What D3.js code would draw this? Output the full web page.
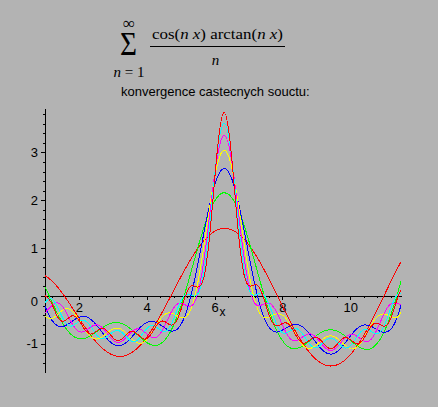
<!DOCTYPE html>
<html><head><meta charset="utf-8">
<script src="https://cdn.jsdelivr.net/npm/d3@7"></script>
<style>
html,body{margin:0;padding:0;background:#b3b3b3;}
svg{display:block}
</style></head><body>
<svg id="chart" width="438" height="407"></svg>
<script>
// sample positions along x
const xs = [0.9818,1.1781,1.3744,1.5708,1.7671,1.9635,2.1598,2.3562,2.5525,2.7489,2.9452,3.1416,3.3379,3.5343,3.7306,3.9270,4.1233,4.3197,4.5160,4.7124,4.9087,5.1051,5.3014,5.4978,5.6941,5.8905,6.0868,6.2832,6.4795,6.6759,6.8722,7.0686,7.2649,7.4613,7.6576,7.8540,8.0503,8.2467,8.4430,8.6394,8.8357,9.0321,9.2284,9.4248,9.6211,9.8175,10.0138,10.2102,10.4065,10.6029,10.7992,10.9956,11.1919,11.3883,11.5846];
// partial sums N = 1..7
const s1 = [0.431,0.332,0.184,0,-0.206,-0.421,-0.632,-0.827,-0.996,-1.129,-1.220,-1.263,-1.255,-1.197,-1.088,-0.934,-0.741,-0.514,-0.264,0,0.267,0.527,0.769,0.984,1.162,1.296,1.381,1.413,1.391,1.314,1.186,1.011,0.797,0.550,0.281,0,-0.282,-0.555,-0.807,-1.029,-1.212,-1.349,-1.435,-1.465,-1.439,-1.358,-1.223,-1.042,-0.820,-0.565,-0.289,0,0.289,0.568,0.825];
const s2 = [0.221,-0.082,-0.381,-0.631,-0.804,-0.888,-0.889,-0.827,-0.732,-0.637,-0.572,-0.556,-0.598,-0.691,-0.813,-0.934,-1.018,-1.029,-0.939,-0.733,-0.412,0.006,0.487,0.984,1.445,1.821,2.069,2.159,2.081,1.843,1.473,1.011,0.509,0.019,-0.414,-0.754,-0.979,-1.089,-1.096,-1.029,-0.923,-0.814,-0.734,-0.706,-0.737,-0.820,-0.932,-1.042,-1.111,-1.104,-0.993,-0.763,-0.416,0.028,0.533];
const s3 = [-0.186,-0.480,-0.628,-0.631,-0.548,-0.456,-0.426,-0.490,-0.638,-0.822,-0.976,-1.044,-1.006,-0.879,-0.717,-0.584,-0.531,-0.569,-0.662,-0.733,-0.690,-0.458,-0.006,0.628,1.347,2.015,2.489,2.665,2.502,2.037,1.374,0.652,0.011,-0.452,-0.697,-0.754,-0.696,-0.618,-0.596,-0.668,-0.823,-1.009,-1.160,-1.218,-1.163,-1.016,-0.832,-0.679,-0.608,-0.630,-0.708,-0.763,-0.701,-0.447,0.029];
const s4 = [-0.419,-0.480,-0.382,-0.278,-0.295,-0.456,-0.683,-0.856,-0.899,-0.822,-0.713,-0.672,-0.741,-0.879,-0.983,-0.961,-0.798,-0.569,-0.394,-0.353,-0.421,-0.458,-0.276,0.246,1.077,2.015,2.759,3.047,2.773,2.037,1.102,0.269,-0.261,-0.452,-0.425,-0.369,-0.424,-0.618,-0.868,-1.054,-1.096,-1.009,-0.887,-0.832,-0.890,-1.016,-1.106,-1.066,-0.881,-0.630,-0.434,-0.376,-0.428,-0.447,-0.245];
const s5 = [-0.366,-0.221,-0.145,-0.278,-0.537,-0.728,-0.741,-0.646,-0.606,-0.708,-0.880,-0.973,-0.909,-0.763,-0.685,-0.746,-0.857,-0.850,-0.647,-0.353,-0.167,-0.174,-0.216,0.029,0.776,1.897,2.930,3.355,2.944,1.919,0.800,0.050,-0.201,-0.166,-0.169,-0.369,-0.681,-0.903,-0.929,-0.835,-0.792,-0.891,-1.059,-1.142,-1.062,-0.898,-0.802,-0.846,-0.942,-0.917,-0.692,-0.376,-0.169,-0.160,-0.185];
const s6 = [-0.150,-0.053,-0.237,-0.522,-0.632,-0.552,-0.511,-0.646,-0.838,-0.886,-0.783,-0.720,-0.812,-0.943,-0.920,-0.746,-0.622,-0.670,-0.745,-0.609,-0.265,0.007,0.021,0.029,0.539,1.715,3.029,3.613,3.042,1.737,0.562,0.050,0.038,0.016,-0.267,-0.627,-0.780,-0.721,-0.690,-0.835,-1.031,-1.074,-0.960,-0.883,-0.963,-1.081,-1.041,-0.846,-0.702,-0.733,-0.791,-0.635,-0.269,0.023,0.055];
const s7 = [0.020,-0.132,-0.443,-0.522,-0.423,-0.471,-0.689,-0.799,-0.718,-0.685,-0.826,-0.938,-0.855,-0.741,-0.799,-0.901,-0.804,-0.586,-0.530,-0.609,-0.481,-0.078,0.205,0.185,0.416,1.511,3.072,3.834,3.085,1.532,0.439,0.207,0.222,-0.069,-0.485,-0.627,-0.562,-0.636,-0.874,-0.992,-0.908,-0.869,-1.003,-1.105,-1.007,-0.875,-0.917,-1.004,-0.887,-0.648,-0.573,-0.635,-0.487,-0.062,0.240];
const xTickValues = [2,4,6,8,10];
const yTickValues = [-1,1,2,3];
const yZeroLabel = "0";
const xAxisTitle = "x";
const subtitle = "konvergence castecnych souctu:";

const series = [s1,s2,s3,s4,s5,s6,s7];
const colors = ["#ff0000","#00ff00","#0000ff","#ffff00","#ff00ff","#00ffff","#ff0000"];

const svg = d3.select("#chart");
const x = d3.scaleLinear().domain([1, 11.5]).range([45, 401]);
const y = d3.scaleLinear().domain([-1.59, 3.93]).range([372, 108]);

// title
const serif = "'Liberation Serif','Times New Roman',serif";
svg.append("text").attr("x",129).attr("y",29).attr("text-anchor","middle")
  .attr("font-family",serif).attr("font-size",17).text("∞");
svg.append("text").attr("x",120).attr("y",55)
  .attr("font-family",serif).attr("font-size",34)
  .attr("textLength",17).attr("lengthAdjust","spacingAndGlyphs").text("Σ");
const nEq = svg.append("text").attr("x",129).attr("y",77).attr("text-anchor","middle")
  .attr("font-family",serif).attr("font-size",15);
nEq.append("tspan").attr("font-style","italic").text("n");
nEq.append("tspan").text(" = 1");
const num = svg.append("text").attr("x",152).attr("y",38.5)
  .attr("font-family",serif).attr("font-size",15)
  .attr("textLength",131).attr("lengthAdjust","spacingAndGlyphs");
[["cos(",0],["n",1],[" ",0],["x",1],[") arctan(",0],["n",1],[" ",0],["x",1],[")",0]]
  .forEach(([t,it]) => num.append("tspan").attr("font-style", it ? "italic" : "normal").text(t));
svg.append("line").attr("x1",150).attr("x2",285).attr("y1",46.5).attr("y2",46.5)
  .attr("stroke","#000").attr("stroke-width",1);
svg.append("text").attr("x",215.5).attr("y",65).attr("text-anchor","middle")
  .attr("font-family",serif).attr("font-size",15).attr("font-style","italic").text("n");
svg.append("text").attr("x",121).attr("y",96)
  .attr("font-family","'Liberation Sans',Arial,sans-serif").attr("font-size",13)
  .attr("fill","#000").text(subtitle);

// axes
const sans = "'Liberation Sans',Arial,sans-serif";
const minorX = d3.range(1.2, 11.45, 0.4).filter(v => Math.abs(v/2 - Math.round(v/2)) > 0.01);
const minorY = d3.range(-1.4, 3.9, 0.2).filter(v => Math.abs(v - Math.round(v)) > 0.01);

const gx = svg.append("g").attr("transform","translate(0,296)");
gx.call(d3.axisBottom(x).tickValues(minorX).tickSize(2).tickSizeOuter(0).tickFormat(""));
gx.append("g").call(d3.axisBottom(x).tickValues(xTickValues).tickSize(4).tickSizeOuter(0).tickPadding(3).tickFormat(d => String(d)));
const gy = svg.append("g").attr("transform","translate(45,0)");
gy.call(d3.axisLeft(y).tickValues(minorY).tickSize(2.5).tickSizeOuter(0).tickFormat(""));
gy.append("g").call(d3.axisLeft(y).tickValues(yTickValues.concat([0])).tickSize(4).tickSizeOuter(0).tickPadding(3).tickFormat(d => d === 0 ? "" : String(d)));
svg.selectAll(".domain").attr("stroke","#000").attr("shape-rendering","crispEdges");
svg.selectAll(".tick line").attr("stroke","#000").attr("shape-rendering","crispEdges");
svg.selectAll(".tick text").attr("font-family",sans).attr("font-size",13).attr("fill","#000");
svg.append("text").attr("x",38).attr("y",y(0)+5.5).attr("dy","0.32em").attr("text-anchor","end")
  .attr("font-family",sans).attr("font-size",13).text(yZeroLabel);
svg.append("text").attr("x",219.5).attr("y",316)
  .attr("font-family",sans).attr("font-size",12).text(xAxisTitle);

// curves
svg.append("clipPath").attr("id","clip").append("rect")
  .attr("x",x(1)).attr("y",0).attr("width",x(11.5)-x(1)).attr("height",407);
const line = d3.line().x((d,i) => x(xs[i])).y(d => y(d)).curve(d3.curveNatural);
const gl = svg.append("g").attr("clip-path","url(#clip)");
series.forEach((s,i) => {
  gl.append("path").attr("d", line(s)).attr("fill","none")
    .attr("stroke", colors[i]).attr("stroke-width",1).attr("shape-rendering","crispEdges");
});
</script>
</body></html>
